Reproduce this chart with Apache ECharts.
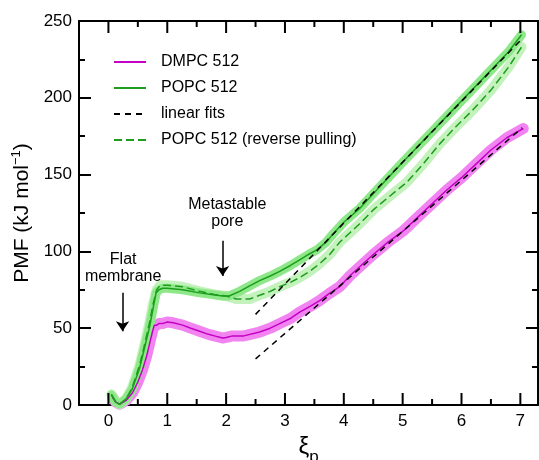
<!DOCTYPE html>
<html>
<head>
<meta charset="utf-8">
<title>PMF vs xi_p</title>
<script src="https://cdn.jsdelivr.net/npm/echarts@6/dist/echarts.min.js"></script>
<style>
  html, body { margin: 0; padding: 0; background: #fff; }
  #chart { width: 539px; height: 460px; }
</style>
</head>
<body>
<div id="chart"></div>
<script>
// values, pairs of [xi_p, PMF (kJ/mol)]
var dmpc = [[0.07,5],[0.12,2],[0.19,0.5],[0.3,3],[0.41,8],[0.5,15],[0.58,23],[0.65,32],[0.7,40],[0.75,48],
  [0.78,52],[0.82,52],[0.86,53],[0.92,53],[1.0,54],[1.1,53.5],[1.26,52],[1.4,50],[1.55,48],[1.7,46],
  [1.8,45],[1.94,43.6],[2.0,44],[2.11,45],[2.3,45],[2.57,47.5],[2.75,50],[2.91,53],[3.1,56.5],[3.25,60.5],
  [3.42,64],[3.59,68],[3.75,72.5],[3.93,77],[4.1,84],[4.27,90],[4.5,98],[4.75,106],[5.0,113],[5.25,122],
  [5.5,131],[5.75,140],[6.0,148],[6.25,157],[6.5,166],[6.77,174],[7.05,180]];
var popc = [[0.05,6.5],[0.12,2],[0.19,0.5],[0.3,4],[0.4,10],[0.53,24],[0.6,35],[0.7,51],[0.76,63],[0.81,73],
  [0.86,75],[0.92,76],[1.0,76],[1.26,75],[1.55,73],[1.75,72],[1.94,71],[2.05,71],[2.23,74],[2.4,77.5],
  [2.57,81],[2.75,84],[2.91,87],[3.1,91],[3.25,94.5],[3.4,98],[3.54,101],[3.7,106],[3.81,111],[4.0,119],
  [4.27,128],[4.5,137.5],[5.0,158],[5.5,178],[6.0,198],[6.5,218],[6.8,230],[7.02,241]];
var popcReverse = [[0.05,7],[0.12,2.5],[0.19,0.5],[0.3,4],[0.4,11],[0.53,26],[0.6,37],[0.7,54],[0.76,66],[0.82,75],
  [0.88,78],[1.0,78],[1.26,77],[1.55,74],[1.8,72],[2.0,71],[2.17,69],[2.4,69],[2.57,71.5],[2.75,74],
  [2.91,77],[3.1,80],[3.25,83],[3.42,87],[3.59,92],[3.76,98],[3.93,106],[4.1,112],[4.27,118],[4.5,127],
  [4.75,135],[5.07,145],[5.35,157],[5.63,170],[5.9,181],[6.19,192],[6.5,205],[6.8,220],[7.02,233]];
var fitDmpc = [[2.5,30],[7.03,180.5]];
var fitPopc = [[2.5,59],[7.03,238.5]];

// axes
var X_MIN = -0.5, X_MAX = 7.3, Y_MIN = 0, Y_MAX = 250;
var xMajor = [0,1,2,3,4,5,6,7];
var xMinor = [0.5,1.5,2.5,3.5,4.5,5.5,6.5];
var legendNames = ['DMPC 512','POPC 512','linear fits','POPC 512 (reverse pulling)'];

// annotations: text blocks and their arrows
var notes = [{name:'Flat\nmembrane', value:[0.25,89]}, {name:'Metastable\npore', value:[2.02,125]}];
var arrows = [[[0.24,73],[0.24,48]], [[1.94,107],[1.94,84]]];

var FONT = 'Liberation Sans, Arial, Helvetica, sans-serif';

function frameX(pos){
  return {
    type:'value', min:X_MIN, max:X_MAX, position:pos,
    axisLine:{show:true, onZero:false, lineStyle:{color:'#000', width:2}},
    axisTick:{show:false}, axisLabel:{show:false}, splitLine:{show:false}
  };
}
// y ticks come from the axis itself (interval 50, one minor tick between)
function frameY(pos){
  return {
    type:'value', min:Y_MIN, max:Y_MAX, interval:50, position:pos,
    axisLine:{show:true, onZero:false, lineStyle:{color:'#000', width:2}},
    axisTick:{show:true, inside:true, length:12, lineStyle:{color:'#000', width:2}},
    minorTick:{show:true, splitNumber:2, length:6, lineStyle:{color:'#000', width:2}},
    axisLabel:{show:false}, splitLine:{show:false}
  };
}

var xBottom = frameX('bottom');
xBottom.axisLabel = {show:true, customValues:xMajor, fontSize:17, color:'#000', margin:8, fontFamily:FONT};
xBottom.name = '{a|ξ}{b|p}';
xBottom.nameLocation = 'middle';
xBottom.nameGap = 13;
xBottom.nameTextStyle = {rich:{
  a:{fontSize:24, color:'#000', fontFamily:FONT},
  b:{fontSize:17, color:'#000', fontFamily:FONT, padding:[20,0,0,0]}
}};

var yLeft = frameY('left');
yLeft.axisLabel = {show:true, fontSize:17, color:'#000', margin:7, fontFamily:FONT};
yLeft.name = '{a|PMF (kJ mol}{b|−1}{a|)}';
yLeft.nameLocation = 'middle';
yLeft.nameGap = 44;
yLeft.nameTextStyle = {rich:{
  a:{fontSize:21, color:'#000', fontFamily:FONT},
  b:{fontSize:13, color:'#000', fontFamily:FONT, padding:[0,0,12,0]}
}};

function band(data, color, w){
  return {type:'line', data:data, symbol:'none', silent:true, z:1,
    lineStyle:{color:color, width:w, cap:'round', join:'round'}};
}

var chart = echarts.init(document.getElementById('chart'));
chart.setOption({
  animation:false,
  grid:{left:79, right:1, top:21, bottom:55, containLabel:false, outerBoundsMode:'none'},
  legend:{
    data:legendNames, orient:'vertical', left:108, top:49,
    itemWidth:32, itemHeight:14, itemGap:10,
    itemStyle:{opacity:0},
    textStyle:{fontSize:16, color:'#000', fontFamily:FONT, padding:[0,0,0,10]}
  },
  xAxis:[xBottom, frameX('top')],
  yAxis:[yLeft, frameY('right')],
  series:[
    band(dmpc, '#f284f2', 11),
    band(popcReverse, '#c4f2bc', 10),
    band(popc, '#8ee88a', 9),
    {name:'DMPC 512', type:'line', data:dmpc, symbol:'none', z:3,
      lineStyle:{color:'#c400c4', width:1.5}, itemStyle:{color:'#c400c4'}},
    {name:'POPC 512 (reverse pulling)', type:'line', data:popcReverse, symbol:'none', z:3,
      lineStyle:{color:'#1c9e1c', width:1.5, type:[8,4]}, itemStyle:{color:'#1c9e1c'}},
    {name:'POPC 512', type:'line', data:popc, symbol:'none', z:3,
      lineStyle:{color:'#1c9e1c', width:1.5}, itemStyle:{color:'#1c9e1c'}},
    {name:'linear fits', type:'line', data:fitDmpc, symbol:'none', z:4,
      lineStyle:{color:'#000', width:1.5, type:[6,5]}, itemStyle:{color:'#000'}},
    {name:'linear fits', type:'line', data:fitPopc, symbol:'none', z:4,
      lineStyle:{color:'#000', width:1.5, type:[6,5]}, itemStyle:{color:'#000'}},
    {name:'notes', type:'scatter', data:notes, symbolSize:0, silent:true, z:5,
      itemStyle:{opacity:1},
      label:{show:true, position:'inside', formatter:'{b}', fontSize:16, lineHeight:17,
        color:'#000', opacity:1, fontFamily:FONT, align:'center'}},
    {name:'arrows', type:'lines', coordinateSystem:'cartesian2d', silent:true, z:5,
      symbol:['none','arrow'], symbolSize:10,
      lineStyle:{color:'#000', width:1.5, opacity:1},
      data:arrows.map(function(a){ return {coords:a}; })}
  ]
});

// x ticks (bottom and top, pointing inwards), placed through the axis scale
var ticks = [];
function px(p){ return chart.convertToPixel({gridIndex:0}, p); }
function xTick(v, len){
  var b = px([v, Y_MIN]), t = px([v, Y_MAX]);
  ticks.push({type:'line', z:100, shape:{x1:b[0], y1:b[1], x2:b[0], y2:b[1] - len},
    style:{stroke:'#000', lineWidth:2}});
  ticks.push({type:'line', z:100, shape:{x1:t[0], y1:t[1], x2:t[0], y2:t[1] + len},
    style:{stroke:'#000', lineWidth:2}});
}
xMajor.forEach(function(v){ xTick(v, 12); });
xMinor.forEach(function(v){ xTick(v, 6); });
chart.setOption({graphic:{elements:ticks}});
</script>
</body>
</html>
